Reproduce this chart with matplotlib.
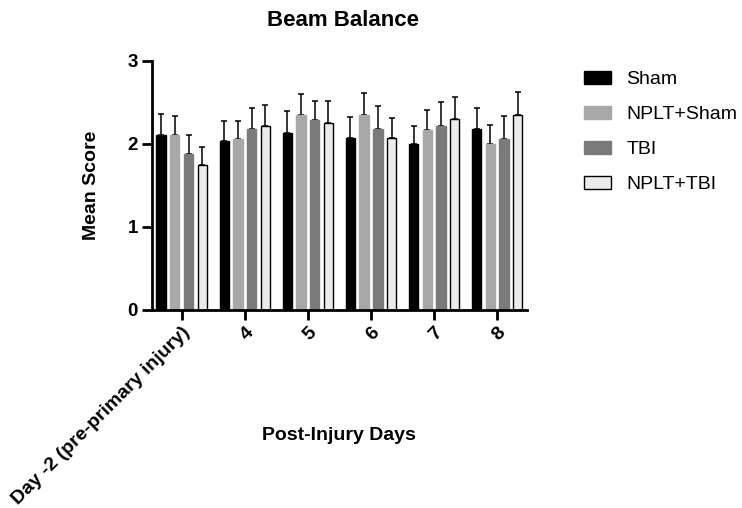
import numpy as np
import matplotlib
matplotlib.use("Agg")
import matplotlib.pyplot as plt

plt.rcParams['font.family'] = ['Liberation Sans', 'DejaVu Sans']

categories = ["Day -2 (pre-primary injury)", "4", "5", "6", "7", "8"]
series_names = ["Sham", "NPLT+Sham", "TBI", "NPLT+TBI"]
sham = [2.11, 2.03, 2.13, 2.07, 2.00, 2.18]
nplt_sham = [2.11, 2.06, 2.35, 2.35, 2.17, 2.00]
tbi = [1.88, 2.18, 2.29, 2.18, 2.21, 2.06]
nplt_tbi = [1.745, 2.21, 2.25, 2.07, 2.30, 2.35]
sham_err = [0.25, 0.24, 0.27, 0.25, 0.22, 0.25]
nplt_sham_err = [0.23, 0.21, 0.25, 0.26, 0.24, 0.23]
tbi_err = [0.22, 0.25, 0.23, 0.27, 0.29, 0.28]
nplt_tbi_err = [0.22, 0.26, 0.26, 0.24, 0.26, 0.27]

values = [sham, nplt_sham, tbi, nplt_tbi]
errors = [sham_err, nplt_sham_err, tbi_err, nplt_tbi_err]
colors = ["#000000", "#a8a8a8", "#7a7a7a", "#ebebeb"]
edges = ["#000000", "#a8a8a8", "#7a7a7a", "#000000"]

fig = plt.figure(figsize=(7.42, 5.08), dpi=100)
ax = fig.add_axes([151.7/742, 1-310/508, (526.7-151.7)/742, (310-60.7)/508])

x = np.arange(len(categories))
pitch = 0.217
width = 0.148
for i, (vals, errs) in enumerate(zip(values, errors)):
    pos = x + (i - 1.5) * pitch
    ax.bar(pos, vals, width=width, color=colors[i], edgecolor=edges[i],
           linewidth=1.0, label=series_names[i], zorder=2)
    ax.errorbar(pos, vals, yerr=[np.zeros(len(errs)), errs], fmt='none',
                ecolor='black', elinewidth=1.1, capsize=2.5, capthick=1.1, zorder=1)

ax.set_xlim(-0.475, 5.467)
ax.set_ylim(0, 3)
ax.set_yticks([0, 1, 2, 3])
ax.set_xticks(x)
ax.set_xticklabels(categories, rotation=45, ha='right', va='top',
                   rotation_mode='anchor', fontweight='bold', fontsize=14)
for lbl in ax.get_yticklabels():
    lbl.set_fontweight('bold')
    lbl.set_fontsize(13.5)

for s in ['top', 'right']:
    ax.spines[s].set_visible(False)
for s in ['left', 'bottom']:
    ax.spines[s].set_linewidth(2)
ax.tick_params(axis='both', width=2, length=7, color='black')
ax.tick_params(axis='y', pad=3)
ax.tick_params(axis='x', pad=3)

ax.set_ylabel("Mean Score", fontsize=14, fontweight='bold', va='center')
ax.yaxis.set_label_coords(-0.16, 0.5)
ax.set_xlabel("Post-Injury Days", fontsize=14, fontweight='bold')
ax.xaxis.label.set_va('center')
ax.xaxis.set_label_coords(0.5, -0.505)

ax.text(0.51, (310-20)/249.3, "Beam Balance", transform=ax.transAxes,
        ha='center', va='center', fontsize=16, fontweight='bold')

fig.legend(loc='upper left', bbox_to_anchor=(584/742, 1-71/508), frameon=False,
           fontsize=14, handlelength=1.37, handleheight=0.62, handletextpad=0.8,
           labelspacing=0.92, borderpad=0, borderaxespad=0)

fig.savefig("out.png", dpi=100)
